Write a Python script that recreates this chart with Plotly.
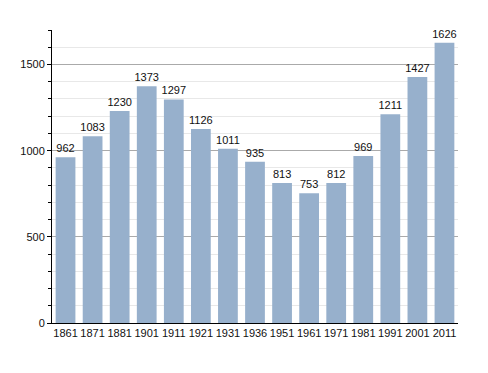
import plotly.graph_objects as go

years = ["1861", "1871", "1881", "1901", "1911", "1921", "1931", "1936",
         "1951", "1961", "1971", "1981", "1991", "2001", "2011"]
population = [962, 1083, 1230, 1373, 1297, 1126, 1011, 935,
              813, 753, 812, 969, 1211, 1427, 1626]

fig = go.Figure(go.Bar(
    x=years, y=population,
    marker=dict(color="#97b0cc", line=dict(width=0)),
    text=[str(v) for v in population], textposition="outside",
    textfont=dict(family="Liberation Sans, Arial", size=11, color="#111"),
    cliponaxis=False,
))

fig.update_layout(
    width=488, height=373,
    margin=dict(l=42, r=38, t=22, b=58),
    paper_bgcolor="white", plot_bgcolor="white",
    bargap=0.27,
    showlegend=False,
    uniformtext=dict(minsize=11, mode="show"),
    font=dict(family="Liberation Sans, Arial", size=11, color="#111"),
    xaxis=dict(type="category", showgrid=False, showline=True, linecolor="black",
               linewidth=1, ticks="", tickfont=dict(size=11)),
    yaxis=dict(range=[0, 1700], tickvals=[0, 500, 1000, 1500],
               showline=True, linecolor="black", linewidth=1,
               ticks="outside", ticklen=4, tickcolor="black",
               gridcolor="#aaaaaa", gridwidth=1, zeroline=False,
               minor=dict(dtick=100, showgrid=True, gridcolor="#e8e8e8",
                          ticks="outside", ticklen=3, tickcolor="black"),
               tickfont=dict(size=11)),
)

fig.write_html("out.html")
